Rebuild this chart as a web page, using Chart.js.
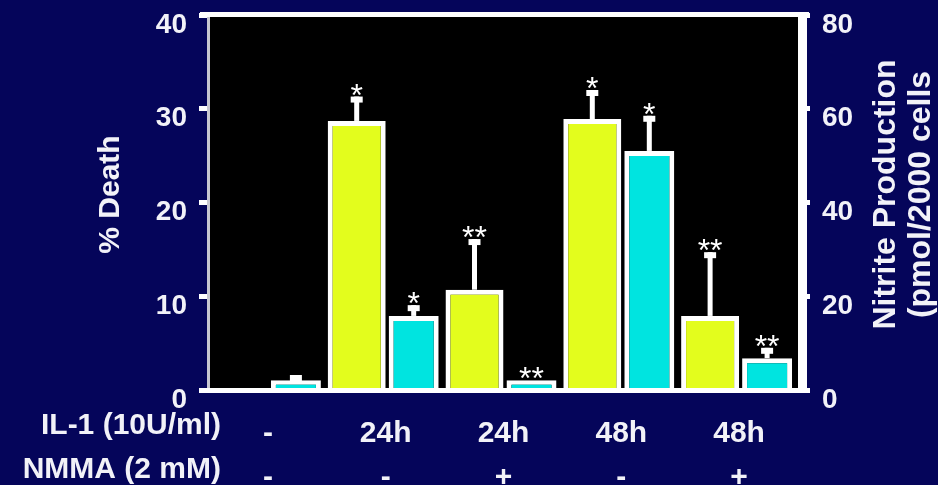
<!DOCTYPE html>
<html>
<head>
<meta charset="utf-8">
<script src="https://cdn.jsdelivr.net/npm/chart.js@4.4.1/dist/chart.umd.min.js"></script>
<style>
  html, body { margin: 0; padding: 0; background: #05055a; }
  #wrap { width: 938px; height: 485px; }
</style>
</head>
<body>
<div id="wrap"><canvas id="chart"></canvas></div>
<script>
const il1Labels = ['-', '24h', '24h', '48h', '48h'];
const nmmaLabels = ['-', '-', '+', '-', '+'];

const deathValues = [0, 28.7, 10.7, 28.9, 7.9];
const deathErrors = [0, 2.6, 5.4, 3.1, 6.8];
const deathMarks = ['', '*', '**', '*', '**'];

const nitriteValues = [2.1, 15.8, 2.1, 51.0, 6.8];
const nitriteErrors = [1.1, 2.3, 0, 7.5, 2.2];
const nitriteMarks = ['', '*', '**', '*', '**'];

const deathTicks = [0, 10, 20, 30, 40];
const nitriteTicks = [0, 20, 40, 60, 80];

const NAVY = '#05055a';
const INK = '#f2f2f8';
const YELLOW = '#e3fd1d';
const CYAN = '#00e4e0';
const FONT = 'Arial, "Liberation Sans", sans-serif';

// background, error bars, asterisks, axis frame and titles
const decorations = {
  id: 'decorations',
  beforeDraw(chart) {
    const { ctx, chartArea: a, width, height } = chart;
    ctx.save();
    ctx.fillStyle = NAVY;
    ctx.fillRect(0, 0, width, height);
    ctx.fillStyle = '#000';
    ctx.fillRect(a.left, a.top, a.right - a.left, a.bottom - a.top);
    ctx.restore();
  },
  afterDatasetsDraw(chart) {
    const { ctx, chartArea: a } = chart;
    ctx.save();

    const sets = [[0, deathErrors, deathMarks], [1, nitriteErrors, nitriteMarks]];
    sets.forEach(([i, errs, marks]) => {
      const meta = chart.getDatasetMeta(i);
      const ys = chart.scales[meta.yAxisID];
      const vals = chart.data.datasets[i].data;
      meta.data.forEach((bar, j) => {
        let top = bar.y;
        ctx.fillStyle = '#fff';
        if (errs[j] > 0) {
          const capTop = ys.getPixelForValue(vals[j] + errs[j]);
          ctx.fillRect(bar.x - 2.5, capTop, 5, bar.y - capTop);
          ctx.fillRect(bar.x - 6, capTop, 12, 6);
          top = capTop;
        }
        if (marks[j]) {
          ctx.font = '32px ' + FONT;
          ctx.textAlign = 'center';
          ctx.textBaseline = 'alphabetic';
          ctx.fillText(marks[j], bar.x, top + 9);
        }
      });
    });

    // frame
    ctx.fillStyle = '#c8c8d0';
    ctx.fillRect(a.left - 2, a.top, 3, a.bottom - a.top);
    ctx.fillStyle = '#fff';
    ctx.fillRect(a.left - 9, a.top - 3, a.right - a.left + 20, 5);
    ctx.fillRect(a.left - 10, a.bottom - 2, a.right - a.left + 21, 5);
    ctx.fillRect(a.right, a.top - 3, 9, a.bottom - a.top + 5);

    // row headings for the category labels
    const x = chart.scales.x;
    const row1 = x.top + 14 + 22;
    ctx.fillStyle = INK;
    ctx.font = 'bold 30px ' + FONT;
    ctx.textAlign = 'right';
    ctx.textBaseline = 'middle';
    ctx.fillText('IL-1 (10U/ml)', 221, row1);
    ctx.fillText('NMMA (2 mM)', 221, row1 + 44);

    // axis titles
    const midY = (a.top + a.bottom) / 2 - 8;
    ctx.textAlign = 'center';
    ctx.save();
    ctx.translate(111, midY);
    ctx.rotate(-Math.PI / 2);
    ctx.font = 'bold 30px ' + FONT;
    ctx.fillText('% Death', 0, 0);
    ctx.restore();

    ctx.save();
    ctx.translate(886, midY);
    ctx.rotate(-Math.PI / 2);
    ctx.font = 'bold 32px ' + FONT;
    ctx.fillText('Nitrite Production', 0, 0);
    ctx.fillText('(pmol/2000 cells', 0, 35);
    ctx.restore();

    ctx.restore();
  }
};

const tickFont = { family: FONT, size: 28, weight: 'bold', lineHeight: 1 };

new Chart(document.getElementById('chart'), {
  type: 'bar',
  data: {
    labels: il1Labels.map((h, i) => [h, nmmaLabels[i]]),
    datasets: [
      {
        label: '% Death',
        data: deathValues,
        yAxisID: 'y',
        backgroundColor: YELLOW,
        borderColor: '#fff',
        borderWidth: 5,
        barThickness: 58
      },
      {
        label: 'Nitrite Production',
        data: nitriteValues,
        yAxisID: 'y1',
        backgroundColor: CYAN,
        borderColor: '#fff',
        borderWidth: 5,
        barThickness: 56,
        maxBarThickness: 50
      }
    ]
  },
  options: {
    responsive: true,
    maintainAspectRatio: false,
    animation: false,
    layout: { padding: { top: 15 } },
    plugins: { legend: { display: false }, tooltip: { enabled: false } },
    datasets: { bar: { inflateAmount: 0 } },
    scales: {
      x: {
        grid: { display: false },
        border: { display: false },
        ticks: {
          color: INK,
          font: { family: FONT, size: 30, weight: 'bold', lineHeight: '44px' },
          padding: 14,
          autoSkip: false,
          maxRotation: 0
        },
        afterFit(s) { s.height = 95; s.paddingLeft = 0; s.paddingRight = 0; }
      },
      y: {
        position: 'left',
        min: 0,
        max: 40,
        afterBuildTicks(s) { s.ticks = deathTicks.map(v => ({ value: v })); },
        grid: { drawOnChartArea: false, drawTicks: true, tickLength: 10, tickWidth: 5, tickColor: '#fff' },
        border: { display: false },
        ticks: { color: INK, font: tickFont, padding: 12, labelOffset: 10 },
        afterFit(s) { s.width = 209; s.paddingTop = 0; s.paddingBottom = 0; }
      },
      y1: {
        position: 'right',
        min: 0,
        max: 80,
        afterBuildTicks(s) { s.ticks = nitriteTicks.map(v => ({ value: v })); },
        grid: { drawOnChartArea: false, drawTicks: true, tickLength: 12, tickWidth: 5, tickColor: '#fff' },
        border: { display: false },
        ticks: { color: INK, font: tickFont, padding: 12, labelOffset: 10 },
        afterFit(s) { s.width = 140; s.paddingTop = 0; s.paddingBottom = 0; }
      }
    }
  },
  plugins: [decorations]
});
</script>
</body>
</html>
